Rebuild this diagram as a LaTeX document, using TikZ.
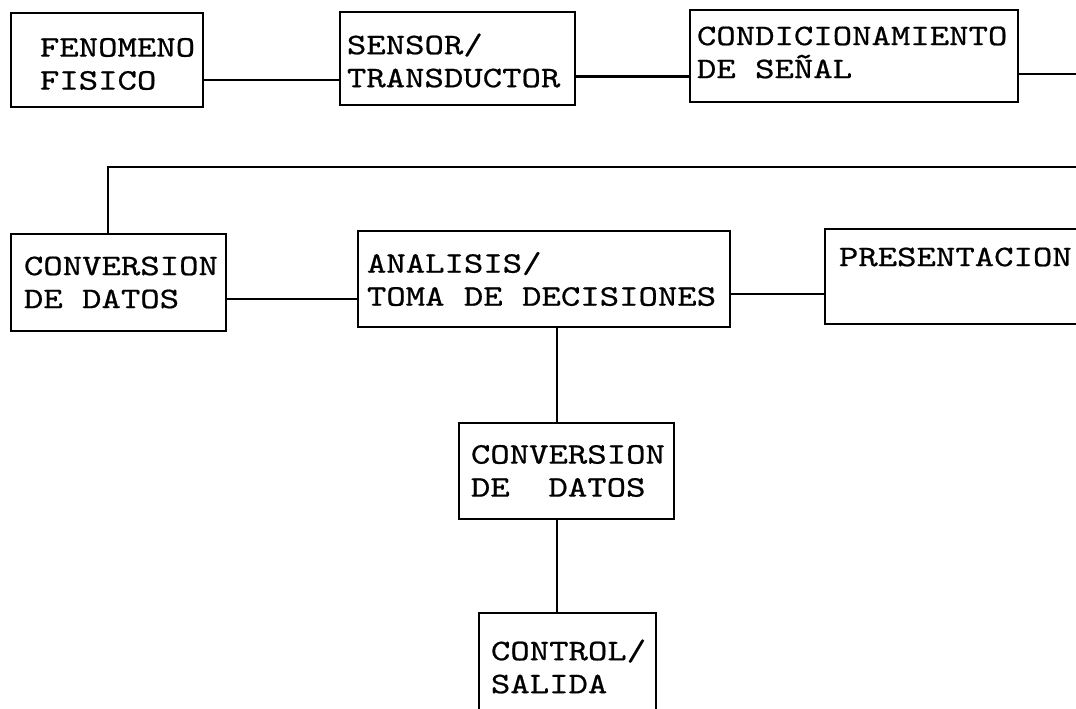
\documentclass[tikz,border=0pt]{standalone}
\usepackage{fontspec}
\newfontfamily\boxfont{lmmono10-regular.otf}[FakeStretch=1.24,FakeBold=0.7]
\begin{document}
\begin{tikzpicture}[x=0.5pt,y=-0.5pt,
  blk/.style={draw,line width=1.45pt,rectangle,inner sep=0pt},
  lbl/.style={inner sep=0pt,anchor=west,align=left,font=\boxfont\fontsize{14.9}{16.5}\selectfont},
  wire/.style={line width=1.15pt}]
\useasboundingbox (0,0) rectangle (1076,708);
\clip (0,0) rectangle (1076,708);
% boxes
\node[blk,minimum width=96pt,minimum height=47pt] (b1) at (107,60) {};
\node[blk,minimum width=117.5pt,minimum height=46.5pt] (b2) at (457.5,58.5) {};
\node[blk,minimum width=164pt,minimum height=46pt] (b3) at (854,56) {};
\node[blk,minimum width=107.5pt,minimum height=48.5pt] (b4) at (118.5,282.5) {};
\node[blk,minimum width=186pt,minimum height=48pt] (b5) at (544,279) {};
\node[blk,minimum width=142.5pt,minimum height=47.5pt] (b6) at (967.5,276.5) {};
\node[blk,minimum width=107.5pt,minimum height=48pt] (b7) at (566.5,471) {};
\node[blk,minimum width=88.5pt,minimum height=63.5pt] (b8) at (567.5,676.5) {};
% texts
\node[lbl] (t1) at ([xshift=15pt,yshift=-2pt]b1.west) {FENOMENO\\FISICO};
\node[lbl] (t2) at ([xshift=4pt,yshift=-1pt]b2.west) {SENSOR/\\TRANSDUCTOR};
\node[lbl] (t3) at ([xshift=4pt,yshift=1.75pt]b3.west) {CONDICIONAMIENTO\\DE SEÑAL};
\node[lbl] (t4) at ([xshift=7pt]b4.west) {CONVERSION\\DE DATOS};
\node[lbl] (t5) at ([xshift=5pt]b5.west) {ANALISIS/\\TOMA DE DECISIONES};
\node[lbl] (t6) at ([xshift=7.5pt,yshift=9.75pt]b6.west) {PRESENTACION};
\node[lbl] (t7) at ([xshift=6.5pt]b7.west) {CONVERSION\\DE~~DATOS};
\node[lbl] (t8) at ([xshift=6.5pt,yshift=5pt]b8.west) {CONTROL/\\SALIDA};
% connectors
\draw[wire] ([yshift=-10pt]b1.east) -- ([yshift=-10pt]b1.east -| b2.west);
\draw[wire] ([yshift=-9pt]b2.east) -- ([yshift=-9pt]b2.east -| b3.west);
\coordinate (turn) at (1095,167);
\draw[wire] ([yshift=-9pt]b3.east) -| (turn) -- ([xshift=-5.25pt]b4.north |- turn) -- ([xshift=-5.25pt]b4.north);
\draw[wire] ([yshift=-8.25pt]b4.east) -- ([yshift=-8.25pt]b4.east -| b5.west);
\draw[wire] ([yshift=-7.5pt]b5.east) -- ([yshift=-7.5pt]b5.east -| b6.west);
\draw[wire] ([xshift=-4.75pt]b7.north) -- ([xshift=-4.75pt]b7.north |- b5.south);
\draw[wire] ([xshift=-4.75pt]b7.south) -- ([xshift=-4.75pt]b7.south |- b8.north);
\end{tikzpicture}
\end{document}
